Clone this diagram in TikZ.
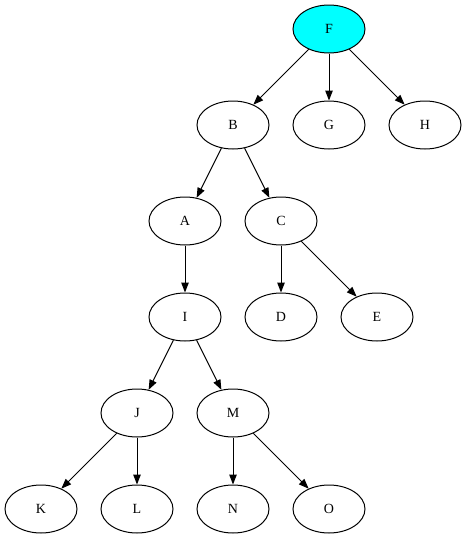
\documentclass[tikz,border=0pt]{standalone}
\usepackage{fontspec}
\setmainfont{Liberation Serif}
\usetikzlibrary{shapes.geometric,arrows.meta}
\definecolor{aqua}{RGB}{0,255,255}
\begin{document}
\begin{tikzpicture}[x=1pt,y=-1pt,
  nd/.style={draw,ellipse,line width=1pt,minimum width=72pt,minimum height=48pt,inner sep=0pt,font=\fontsize{14pt}{16pt}\selectfont},
  ed/.style={line width=1pt,-{Triangle[length=10pt,width=7.5pt]}}]
\useasboundingbox (0,0) rectangle (467,539);
\node[nd,fill=aqua] (F) at (329,29) {F};
\node[nd] (B) at (233,125) {B};
\node[nd] (G) at (329,125) {G};
\node[nd] (H) at (425,125) {H};
\node[nd] (A) at (185,221) {A};
\node[nd] (C) at (281,221) {C};
\node[nd] (I) at (185,317) {I};
\node[nd] (D) at (281,317) {D};
\node[nd] (E) at (377,317) {E};
\node[nd] (J) at (137,413) {J};
\node[nd] (M) at (233,413) {M};
\node[nd] (K) at (41,509) {K};
\node[nd] (L) at (137,509) {L};
\node[nd] (N) at (233,509) {N};
\node[nd] (O) at (329,509) {O};
\draw[ed] (F) -- (B);
\draw[ed] (F) -- (G);
\draw[ed] (F) -- (H);
\draw[ed] (B) -- (A);
\draw[ed] (B) -- (C);
\draw[ed] (A) -- (I);
\draw[ed] (C) -- (D);
\draw[ed] (C) -- (E);
\draw[ed] (I) -- (J);
\draw[ed] (I) -- (M);
\draw[ed] (J) -- (K);
\draw[ed] (J) -- (L);
\draw[ed] (M) -- (N);
\draw[ed] (M) -- (O);
\end{tikzpicture}
\end{document}
